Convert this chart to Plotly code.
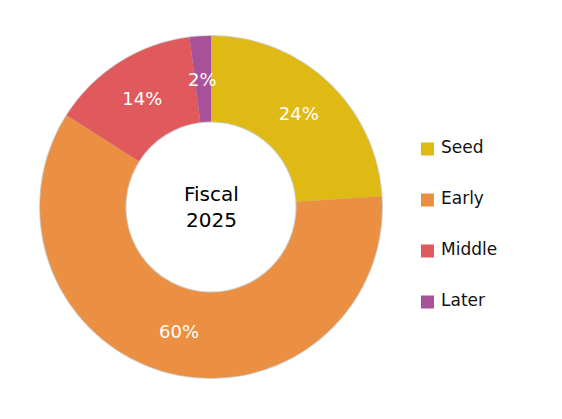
import math
import plotly.graph_objects as go

# stages and their share of fiscal 2025 investments
stages = ["Seed", "Early", "Middle", "Later"]
shares = [24, 60, 14, 2]
colors = ["#E0BA14", "#EB9043", "#E05A5D", "#A8529A"]

W, H = 562, 419
OFF = 8  # page margin of the browser
cx, cy, r = 211 - OFF, 207 - OFF, 171
HOLE = 0.5


def dom(rad):
    return dict(x=[(cx - rad) / W, (cx + rad) / W],
                y=[(H - cy - rad) / H, (H - cy + rad) / H])


fig = go.Figure()

# faint grey rim behind the ring (soft shadow look)
fig.add_trace(go.Pie(
    values=[1], hole=(r * HOLE - 1) / (r + 1), sort=False,
    marker=dict(colors=["#cfcfcf"], line=dict(width=0)),
    textinfo="none", hoverinfo="skip", showlegend=False,
    domain=dom(r + 1),
))

# the small slice gets its label placed by hand (it overflows the slice)
small = [s < 5 for s in shares]
fig.add_trace(go.Pie(
    labels=stages,
    values=shares,
    hole=HOLE,
    sort=False,
    direction="clockwise",
    rotation=0,
    marker=dict(colors=colors, line=dict(width=0)),
    texttemplate=["" if sm else "%{value}%" for sm in small],
    textposition="inside",
    insidetextorientation="horizontal",
    textfont=dict(family="DejaVu Sans", size=18, color="white"),
    hoverinfo="label+percent",
    showlegend=False,
    domain=dom(r),
))

total = sum(shares)
cum = 0
for s, sm in zip(shares, small):
    mid = (cum + s / 2) / total
    cum += s
    if not sm:
        continue
    ang = 2 * math.pi * mid
    rr = r * 0.78 + 7
    x = cx + rr * math.sin(ang)
    y = cy - rr * math.cos(ang)
    fig.add_annotation(x=x / W, y=1 - y / H, xref="paper", yref="paper",
                       text=f"{s}%", showarrow=False,
                       font=dict(family="DejaVu Sans", size=18, color="white"))

# centre label
fig.add_annotation(x=cx / W, y=1 - cy / H, xref="paper", yref="paper",
                   text="Fiscal<br>2025", showarrow=False,
                   font=dict(family="DejaVu Sans", size=20, color="black"))

# legend drawn by hand so the row spacing matches
for i, (name, col) in enumerate(zip(stages, colors)):
    yc = 149 - OFF + i * 51
    fig.add_shape(type="rect", xref="paper", yref="paper",
                  x0=(421 - OFF) / W, x1=(434 - OFF) / W,
                  y0=1 - (yc + 6.5) / H, y1=1 - (yc - 6.5) / H,
                  fillcolor=col, line=dict(width=0))
    fig.add_annotation(x=(439 - OFF) / W, y=1 - (yc - 2) / H, xref="paper", yref="paper",
                       text=name, showarrow=False, xanchor="left", yanchor="middle",
                       font=dict(family="DejaVu Sans", size=17, color="#111111"))

fig.update_layout(
    width=W, height=H,
    margin=dict(l=0, r=0, t=0, b=0),
    paper_bgcolor="white",
    plot_bgcolor="white",
)

fig.write_html("out.html")
